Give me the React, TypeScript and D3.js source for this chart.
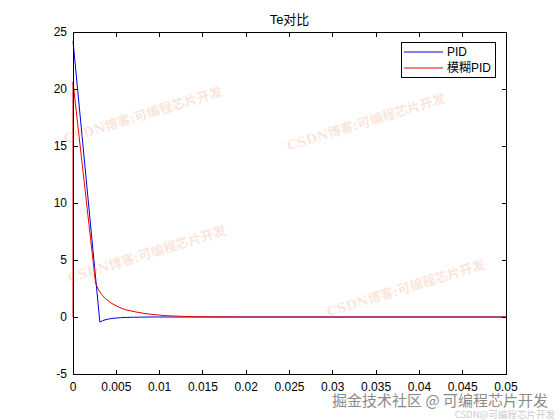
import * as d3 from "d3";

// Te comparison
const pidT = [0, 0.0031, 0.0034, 0.0037, 0.0041, 0.0045, 0.005, 0.0055, 0.0062, 0.007, 0.008, 0.009, 0.01, 0.05];
const pidV = [24.2, -0.45, -0.33, -0.25, -0.18, -0.13, -0.09, -0.06, -0.04, -0.02, -0.01, 0, 0, 0];

const fuzzyT = [0, 0, 0.0026, 0.0029, 0.0033, 0.0037, 0.0044, 0.0052, 0.006, 0.0072, 0.0082, 0.0091, 0.0105, 0.012, 0.014, 0.017, 0.02, 0.05];
const fuzzyV = [0, 20.6, 3.0, 2.45, 1.98, 1.64, 1.22, 0.9, 0.65, 0.45, 0.32, 0.23, 0.13, 0.07, 0.03, 0.01, 0, 0];

const xTicks = [0, 0.005, 0.01, 0.015, 0.02, 0.025, 0.03, 0.035, 0.04, 0.045, 0.05];
const xTickLabels = ["0", "0.005", "0.01", "0.015", "0.02", "0.025", "0.03", "0.035", "0.04", "0.045", "0.05"];
const yTicks = [-5, 0, 5, 10, 15, 20, 25];

const seriesNames = ["PID", "模糊PID"];
const seriesColors = ["#0000e6", "#f00000"];
const titleText = "Te对比";
const watermark = "CSDN博客:可编程芯片开发";

const W = 560,
  H = 420,
  left = 73,
  right = 506,
  top = 32,
  bottom = 374,
  tickLen = 4.5;

const font = "'Liberation Sans', Arial, 'Noto Sans CJK SC', sans-serif";

export default function App() {
  const x = d3.scaleLinear().domain([0, 0.05]).range([left, right]);
  const y = d3.scaleLinear().domain([-5, 25]).range([bottom, top]);

  const pidPath = d3
    .line<number>()
    .x((t) => x(t))
    .y((_, i) => y(pidV[i]))(pidT);
  const fuzzyPath = d3
    .line<number>()
    .x((t) => x(t))
    .y((_, i) => y(fuzzyV[i]))(fuzzyT);

  // watermark tiles (centres)
  const marks = [
    { cx: 143, cy: 115 },
    { cx: 366, cy: 122 },
    { cx: 147, cy: 254 },
    { cx: 406, cy: 288 },
  ];

  return (
    <svg
      width={W}
      height={H}
      style={{ position: "absolute", left: 0, top: 0, background: "#fff" }}
      fontFamily={font}
    >
      <rect x={0} y={0} width={W} height={H} fill="#fff" />

      <path d={pidPath ?? ""} fill="none" stroke={seriesColors[0]} strokeWidth={1} />
      <path d={fuzzyPath ?? ""} fill="none" stroke={seriesColors[1]} strokeWidth={1} />

      {/* box and ticks */}
      <rect
        x={left}
        y={top}
        width={right - left}
        height={bottom - top}
        fill="none"
        stroke="#000"
        strokeWidth={1}
        shapeRendering="crispEdges"
      />
      {xTicks.map((t, i) => (
        <g key={"x" + i} shapeRendering="crispEdges">
          <line x1={x(t)} x2={x(t)} y1={bottom} y2={bottom - tickLen} stroke="#000" />
          <line x1={x(t)} x2={x(t)} y1={top} y2={top + tickLen} stroke="#000" />
          <text x={x(t)} y={391} fontSize={12} textAnchor="middle" fill="#000">
            {xTickLabels[i]}
          </text>
        </g>
      ))}
      {yTicks.map((v, i) => (
        <g key={"y" + i} shapeRendering="crispEdges">
          <line x1={left} x2={left + tickLen} y1={y(v)} y2={y(v)} stroke="#000" />
          <line x1={right} x2={right - tickLen} y1={y(v)} y2={y(v)} stroke="#000" />
          <text x={67} y={y(v)} dy="0.36em" fontSize={12} textAnchor="end" fill="#000">
            {v}
          </text>
        </g>
      ))}

      <text x={(left + right) / 2} y={24} fontSize={13} textAnchor="middle" fill="#000">
        {titleText}
      </text>

      {/* legend */}
      <g>
        <rect x={401} y={42} width={94} height={35} fill="#fff" stroke="#000" shapeRendering="crispEdges" />
        {seriesNames.map((name, i) => (
          <g key={name}>
            <line x1={404} x2={443} y1={52 + i * 16} y2={52 + i * 16} stroke={seriesColors[i]} />
            <text x={447} y={52 + i * 16} dy="0.36em" fontSize={12} fill="#000">
              {name}
            </text>
          </g>
        ))}
      </g>

      {/* watermarks */}
      {marks.map((m, i) => (
        <text
          key={"wm" + i}
          x={m.cx}
          y={m.cy}
          transform={`rotate(-17 ${m.cx} ${m.cy})`}
          textAnchor="middle"
          dy="0.35em"
          fontSize={13}
          fontWeight="bold"
          fontFamily="'DejaVu Serif', 'Noto Sans CJK SC', serif"
          fill="rgba(240,150,110,0.26)"
        >
          {watermark}
        </text>
      ))}

      <text
        x={548}
        y={406}
        textAnchor="end"
        fontSize={15}
        fontFamily="'Noto Sans CJK SC', sans-serif"
        fill="#8a8a8a"
        stroke="#fff"
        strokeWidth={2}
        paintOrder="stroke"
      >
        掘金技术社区 @ 可编程芯片开发
      </text>
      <text
        x={555}
        y={418}
        textAnchor="end"
        fontSize={9.5}
        fontFamily="'Noto Sans CJK SC', sans-serif"
        fill="#cccccc"
      >
        CSDN@可编程芯片开发
      </text>
    </svg>
  );
}
